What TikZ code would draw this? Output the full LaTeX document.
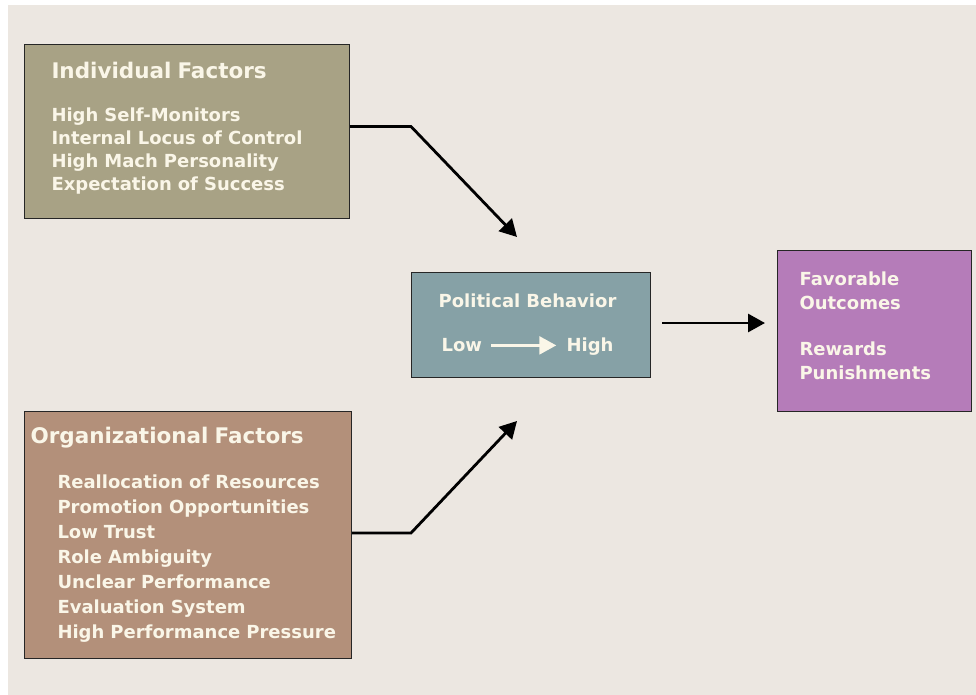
\documentclass[tikz,border=0pt]{standalone}
\usepackage{fontspec}
\setmainfont{DejaVu Sans}
\usetikzlibrary{arrows.meta,calc}
\definecolor{bg}{RGB}{236,231,225}
\definecolor{indiv}{RGB}{168,162,133}
\definecolor{orga}{RGB}{179,144,122}
\definecolor{polit}{RGB}{134,161,166}
\definecolor{outc}{RGB}{181,124,185}
\definecolor{txt}{RGB}{250,246,232}

\tikzset{
  factorbox/.style={draw=black!85,line width=1pt,anchor=north west,align=left,
    text=txt,font=\bfseries\fontsize{18}{23}\selectfont,inner ysep=0pt},
  flow/.style={line width=2.8pt,-{Triangle[length=17pt,width=18pt]}},
}
\newcommand{\boxtitle}[1]{{\fontsize{21.5}{23}\selectfont #1}}

\begin{document}
\begin{tikzpicture}[x=1pt,y=-1pt]
  \fill[white] (0,0) rectangle (976,695);
  \fill[bg] (8,5) rectangle (976,695);
  % boxes
  \node[factorbox,fill=indiv,minimum width=325pt,minimum height=174pt,
    text width=271pt,inner xsep=27pt,text depth=122pt] (ind) at (24,44)
    {\boxtitle{Individual Factors}\\[20pt]
     High Self-Monitors\\Internal Locus of Control\\High Mach Personality\\Expectation of Success};
  \node[factorbox,fill=orga,minimum width=327pt,minimum height=247pt,
    text width=315pt,inner xsep=6pt,font=\bfseries\fontsize{18}{25}\selectfont] (org) at (24,411)
    {\boxtitle{Organizational Factors}\\[20pt]
     \hspace*{27pt}Reallocation of Resources\\\hspace*{27pt}Promotion Opportunities\\
     \hspace*{27pt}Low Trust\\\hspace*{27pt}Role Ambiguity\\\hspace*{27pt}Unclear Performance\\
     \hspace*{27pt}Evaluation System\\\hspace*{27pt}High Performance Pressure};
  \node[factorbox,fill=polit,align=center,minimum width=239pt,minimum height=105pt,
    text width=227pt,inner xsep=6pt] (pol) at (411,272)
    {\hspace*{-7pt}Political Behavior\\[21pt]
     \hspace*{-7pt}Low\hspace{8pt}\tikz[baseline=-6.5pt]\draw[txt,line width=2.5pt,-{Triangle[length=17pt,width=18pt]}] (0,0) -- (65pt,0);\hspace{9pt}High};
  \node[factorbox,fill=outc,minimum width=189pt,minimum height=161pt,
    text width=150pt,inner xsep=22pt,text depth=104pt,
    font=\bfseries\fontsize{18}{24}\selectfont] (out) at (777,250)
    {Favorable\\Outcomes\\[22pt]Rewards\\Punishments};
  % connectors
  \coordinate (tipA) at (517,237);
  \coordinate (tipB) at (517,421);
  \coordinate (srcA) at ($(ind.east)+(0,-5)$);
  \coordinate (srcB) at ($(org.east)+(0,-2)$);
  \coordinate (srcC) at ($(pol.east)+(11,-2)$);
  \draw[flow] (srcA) -- (srcA -| pol.west) -- (tipA);
  \draw[flow] (srcB) -- (srcB -| pol.west) -- (tipB);
  \draw[flow,shorten >=12pt] (srcC) -- (srcC -| out.west);
\end{tikzpicture}
\end{document}
